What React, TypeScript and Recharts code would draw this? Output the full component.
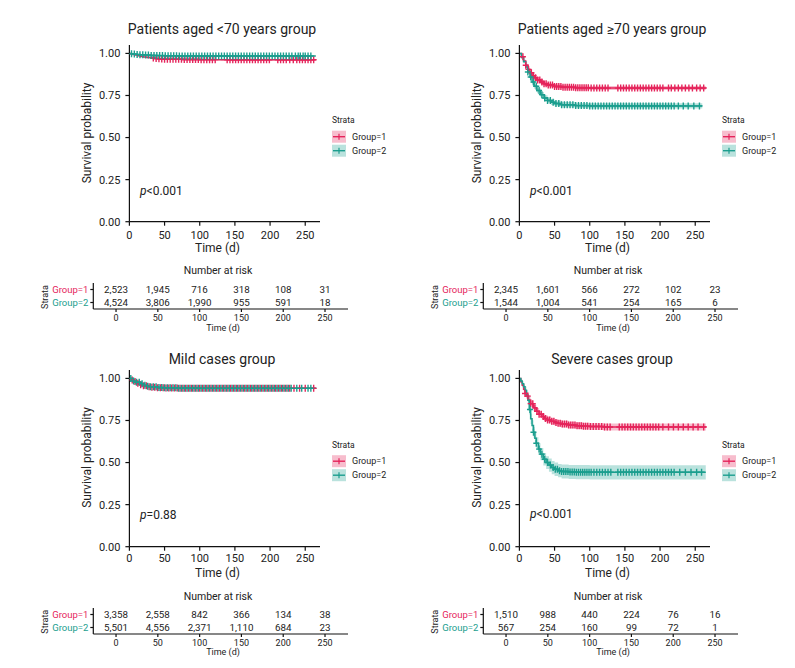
import React from "react";
import { ComposedChart, Line, Area, Scatter, XAxis, YAxis } from "recharts";

const RED = "#E5245B";
const TEAL = "#1B9E8E";
const FONT = "Roboto, sans-serif";

// ---------- Panel titles / p-values ----------
const TITLES = ["Patients aged <70 years group", "Patients aged \u226570 years group", "Mild cases group", "Severe cases group"];
const PVALS = ["<0.001", "<0.001", "=0.88", "<0.001"];
const GROUPS = ["Group=1", "Group=2"];
const X_TICKS = [0, 50, 100, 150, 200, 250];
const Y_TICKS = [0, 0.25, 0.5, 0.75, 1];

// ---------- Panel 1: aged <70 ----------
const P1_G1_T = [0, 2, 5, 8, 12, 16, 20, 25, 30, 35, 40, 45, 50, 60, 75, 100, 130, 265];
const P1_G1_S = [1, 0.998, 0.994, 0.99, 0.986, 0.982, 0.979, 0.976, 0.973, 0.97, 0.968, 0.967, 0.966, 0.965, 0.964, 0.963, 0.962, 0.962];
const P1_G1_LO = [1, 0.996, 0.991, 0.987, 0.982, 0.978, 0.975, 0.972, 0.969, 0.966, 0.964, 0.963, 0.962, 0.961, 0.96, 0.959, 0.957, 0.956];
const P1_G1_HI = [1, 1, 0.997, 0.993, 0.99, 0.986, 0.983, 0.98, 0.977, 0.974, 0.972, 0.971, 0.97, 0.969, 0.968, 0.967, 0.967, 0.968];
const P1_G1_CENS = [34, 38, 42, 46, 50, 54, 58, 62, 66, 70, 74, 78, 82, 86, 90, 94, 98, 102, 106, 110, 114, 118, 122, 139, 143, 147, 151, 155, 159, 163, 167, 171, 175, 179, 183, 187, 191, 195, 199, 211, 215, 219, 223, 228, 233, 238, 242, 246, 250, 254, 258, 262];
const P1_G2_T = [0, 3, 6, 10, 15, 20, 30, 40, 50, 70, 100, 265];
const P1_G2_S = [1, 0.998, 0.996, 0.994, 0.992, 0.99, 0.988, 0.987, 0.986, 0.985, 0.985, 0.985];
const P1_G2_LO = [1, 0.997, 0.994, 0.992, 0.99, 0.988, 0.985, 0.984, 0.983, 0.982, 0.982, 0.981];
const P1_G2_HI = [1, 0.999, 0.998, 0.996, 0.994, 0.992, 0.991, 0.99, 0.989, 0.988, 0.988, 0.989];
const P1_G2_CENS = [3, 7, 11, 15, 19, 23, 27, 31, 35, 39, 43, 47, 51, 55, 59, 63, 67, 71, 75, 79, 83, 87, 91, 95, 99, 103, 107, 111, 115, 119, 123, 127, 131, 135, 139, 143, 147, 151, 155, 159, 163, 167, 171, 175, 179, 183, 187, 191, 195, 199, 203, 207, 211, 215, 219, 223, 227, 231, 236, 240, 243, 247, 250, 254, 258];

// ---------- Panel 2: aged >=70 ----------
const P2_G1_T = [0, 3, 6, 9, 12, 15, 18, 21, 25, 30, 35, 40, 50, 60, 80, 100, 265];
const P2_G1_S = [1, 0.98, 0.955, 0.93, 0.905, 0.885, 0.868, 0.855, 0.842, 0.83, 0.82, 0.812, 0.803, 0.799, 0.796, 0.794, 0.793];
const P2_G1_LO = [1, 0.975, 0.948, 0.921, 0.895, 0.874, 0.857, 0.843, 0.83, 0.818, 0.808, 0.8, 0.791, 0.787, 0.784, 0.782, 0.779];
const P2_G1_HI = [1, 0.985, 0.962, 0.939, 0.915, 0.896, 0.879, 0.867, 0.854, 0.842, 0.832, 0.824, 0.815, 0.811, 0.808, 0.806, 0.807];
const P2_G1_CENS = [5, 9, 13, 17, 20, 23, 26, 29, 32, 35, 38, 41, 44, 47, 50, 53, 56, 59, 62, 65, 68, 71, 74, 77, 80, 83, 86, 89, 92, 95, 98, 102, 106, 110, 114, 118, 122, 126, 140, 144, 148, 152, 156, 160, 164, 168, 172, 176, 180, 184, 188, 192, 196, 200, 204, 212, 216, 221, 226, 231, 236, 241, 246, 252, 257, 262];
const P2_G2_T = [0, 3, 6, 9, 12, 15, 18, 21, 25, 30, 35, 40, 45, 50, 60, 80, 100, 260];
const P2_G2_S = [1, 0.975, 0.95, 0.92, 0.89, 0.86, 0.83, 0.805, 0.78, 0.755, 0.735, 0.72, 0.71, 0.702, 0.695, 0.69, 0.688, 0.688];
const P2_G2_LO = [1, 0.967, 0.94, 0.908, 0.877, 0.846, 0.815, 0.79, 0.764, 0.739, 0.719, 0.704, 0.694, 0.686, 0.679, 0.674, 0.672, 0.67];
const P2_G2_HI = [1, 0.983, 0.96, 0.932, 0.903, 0.874, 0.845, 0.82, 0.796, 0.771, 0.751, 0.736, 0.726, 0.718, 0.711, 0.706, 0.704, 0.706];
const P2_G2_CENS = [12, 16, 20, 24, 28, 32, 36, 40, 44, 48, 52, 56, 60, 64, 68, 72, 76, 80, 84, 88, 92, 96, 100, 104, 108, 112, 116, 120, 124, 128, 132, 136, 140, 144, 148, 152, 156, 160, 164, 168, 172, 176, 180, 184, 188, 192, 196, 200, 204, 208, 212, 216, 220, 226, 233, 240, 248, 256];

// ---------- Panel 3: mild cases ----------
const P3_G1_T = [0, 3, 6, 10, 15, 20, 25, 30, 40, 50, 70, 100, 265];
const P3_G1_S = [1, 0.99, 0.981, 0.972, 0.963, 0.956, 0.951, 0.948, 0.945, 0.943, 0.942, 0.941, 0.941];
const P3_G1_LO = [1, 0.987, 0.977, 0.968, 0.959, 0.952, 0.947, 0.944, 0.941, 0.939, 0.938, 0.937, 0.936];
const P3_G1_HI = [1, 0.993, 0.985, 0.976, 0.967, 0.96, 0.955, 0.952, 0.949, 0.947, 0.946, 0.945, 0.946];
const P3_G1_CENS = [4, 8, 12, 16, 20, 24, 28, 32, 36, 40, 44, 48, 52, 56, 60, 64, 68, 72, 76, 80, 84, 88, 92, 96, 100, 104, 108, 112, 116, 120, 124, 128, 132, 136, 140, 144, 148, 152, 156, 160, 164, 168, 172, 176, 180, 184, 188, 192, 196, 200, 204, 208, 212, 216, 220, 224, 228, 234, 242, 250, 262];
const P3_G2_T = [0, 3, 6, 10, 15, 20, 25, 30, 40, 50, 70, 100, 265];
const P3_G2_S = [1, 0.992, 0.985, 0.977, 0.968, 0.96, 0.954, 0.95, 0.946, 0.944, 0.942, 0.941, 0.94];
const P3_G2_LO = [1, 0.99, 0.982, 0.974, 0.965, 0.957, 0.951, 0.947, 0.943, 0.941, 0.939, 0.938, 0.937];
const P3_G2_HI = [1, 0.994, 0.988, 0.98, 0.971, 0.963, 0.957, 0.953, 0.949, 0.947, 0.945, 0.944, 0.943];
const P3_G2_CENS = [2, 6, 10, 14, 18, 22, 26, 30, 34, 38, 42, 46, 50, 54, 58, 62, 66, 70, 74, 78, 82, 86, 90, 94, 98, 102, 106, 110, 114, 118, 122, 126, 130, 134, 138, 142, 146, 150, 154, 158, 162, 166, 170, 174, 178, 182, 186, 190, 194, 198, 202, 206, 210, 214, 218, 222, 226, 230, 238, 245, 254, 258];

// ---------- Panel 4: severe cases ----------
const P4_G1_T = [0, 2, 4, 6, 8, 10, 13, 16, 20, 24, 28, 32, 36, 40, 45, 50, 55, 60, 70, 80, 90, 100, 120, 265];
const P4_G1_S = [1, 0.98, 0.96, 0.935, 0.91, 0.895, 0.872, 0.85, 0.825, 0.805, 0.787, 0.773, 0.762, 0.753, 0.745, 0.738, 0.733, 0.729, 0.723, 0.719, 0.716, 0.714, 0.711, 0.709];
const P4_G1_LO = [1, 0.973, 0.95, 0.923, 0.896, 0.88, 0.856, 0.833, 0.807, 0.786, 0.768, 0.753, 0.742, 0.733, 0.725, 0.718, 0.713, 0.709, 0.703, 0.699, 0.696, 0.694, 0.69, 0.687];
const P4_G1_HI = [1, 0.987, 0.97, 0.947, 0.924, 0.91, 0.888, 0.867, 0.843, 0.824, 0.806, 0.793, 0.782, 0.773, 0.765, 0.758, 0.753, 0.749, 0.743, 0.739, 0.736, 0.734, 0.732, 0.731];
const P4_G1_CENS = [8, 12, 16, 19, 22, 25, 28, 31, 34, 37, 40, 43, 46, 49, 52, 55, 58, 61, 64, 67, 70, 73, 76, 79, 82, 85, 88, 91, 94, 97, 101, 105, 109, 113, 117, 121, 125, 129, 142, 146, 150, 154, 158, 162, 166, 170, 174, 178, 182, 186, 190, 194, 198, 204, 212, 219, 226, 233, 240, 247, 254, 262];
const P4_G2_T = [0, 2, 4, 6, 8, 10, 12, 14, 16, 18, 20, 22, 24, 27, 30, 34, 38, 42, 46, 50, 55, 60, 70, 80, 100, 265];
const P4_G2_S = [1, 0.985, 0.968, 0.95, 0.93, 0.905, 0.87, 0.815, 0.76, 0.72, 0.68, 0.645, 0.615, 0.58, 0.55, 0.52, 0.5, 0.485, 0.47, 0.46, 0.452, 0.447, 0.444, 0.443, 0.442, 0.442];
const P4_G2_LO = [1, 0.975, 0.953, 0.932, 0.908, 0.88, 0.843, 0.786, 0.729, 0.688, 0.647, 0.611, 0.58, 0.545, 0.514, 0.483, 0.462, 0.446, 0.431, 0.42, 0.412, 0.406, 0.403, 0.401, 0.4, 0.398];
const P4_G2_HI = [1, 0.995, 0.983, 0.968, 0.952, 0.93, 0.897, 0.844, 0.791, 0.752, 0.713, 0.679, 0.65, 0.615, 0.586, 0.557, 0.538, 0.524, 0.509, 0.5, 0.492, 0.488, 0.485, 0.485, 0.484, 0.486];
const P4_G2_CENS = [15, 20, 24, 28, 32, 36, 40, 44, 48, 51, 54, 57, 60, 63, 66, 69, 72, 75, 78, 81, 84, 87, 90, 93, 96, 99, 102, 106, 110, 114, 118, 122, 126, 130, 140, 144, 148, 152, 156, 160, 164, 168, 172, 176, 180, 184, 188, 192, 196, 200, 204, 208, 212, 216, 220, 228, 236, 244, 252, 259];

// ---------- Number at risk ----------
const RT_TIMES = [0, 50, 100, 150, 200, 250];
const RT1_G1 = [2523, 1945, 716, 318, 108, 31];
const RT1_G2 = [4524, 3806, 1990, 955, 591, 18];
const RT2_G1 = [2345, 1601, 566, 272, 102, 23];
const RT2_G2 = [1544, 1004, 541, 254, 165, 6];
const RT3_G1 = [3358, 2558, 842, 366, 134, 38];
const RT3_G2 = [5501, 4556, 2371, 1110, 684, 23];
const RT4_G1 = [1510, 988, 440, 224, 76, 16];
const RT4_G2 = [567, 254, 160, 99, 72, 1];

type Grp = { t: number[]; s: number[]; lo: number[]; hi: number[]; cens: number[] };

const stepAt = (ts: number[], ss: number[], t: number) => {
  let v = ss[0];
  for (let i = 0; i < ts.length; i++) {
    if (ts[i] <= t) v = ss[i];
    else break;
  }
  return v;
};

const plusShape = (color: string) => (p: any) => (
  <path
    d={`M${p.cx - 3},${p.cy}h6M${p.cx},${p.cy - 3.5}v7`}
    stroke={color}
    strokeWidth={1.4}
    fill="none"
  />
);

const axisStroke = { stroke: "#111", strokeWidth: 1.2 };

function KMChart({ ox, oy, g1, g2, tickMargin }: { ox: number; oy: number; g1: Grp; g2: Grp; tickMargin: number }) {
  const mk = (g: Grp) => ({
    line: g.t.map((x, i) => ({ t: x, s: g.s[i] })),
    band: g.t.map((x, i) => ({ t: x, r: [g.lo[i], g.hi[i]] })),
    cens: g.cens.map((c) => ({ t: c, s: stepAt(g.t, g.s, c) })),
  });
  const a = mk(g1);
  const b = mk(g2);
  return (
    <div style={{ position: "absolute", left: ox + 60, top: oy + 20 }}>
      <ComposedChart width={275} height={245} margin={{ top: 25, right: 15, bottom: 13.3, left: 0 }}>
        <XAxis
          type="number"
          dataKey="t"
          domain={[0, 271]}
          ticks={X_TICKS}
          allowDataOverflow
          interval={0}
          height={30}
          tickSize={4}
          tickMargin={tickMargin}
          axisLine={axisStroke}
          tickLine={axisStroke}
          tick={{ fontSize: 11, fill: "#222", fontFamily: FONT }}
        />
        <YAxis
          type="number"
          domain={[0, 1.05]}
          ticks={Y_TICKS}
          allowDataOverflow
          interval={0}
          width={69.4}
          tickSize={4}
          tickMargin={5}
          tickFormatter={(v: number) => v.toFixed(2)}
          axisLine={axisStroke}
          tickLine={axisStroke}
          tick={{ fontSize: 11, fill: "#222", fontFamily: FONT }}
        />
        <Area data={a.band} dataKey="r" type="stepAfter" stroke="none" fill={RED} fillOpacity={0.3} isAnimationActive={false} />
        <Area data={b.band} dataKey="r" type="stepAfter" stroke="none" fill={TEAL} fillOpacity={0.3} isAnimationActive={false} />
        <Line data={a.line} dataKey="s" type="stepAfter" stroke={RED} strokeWidth={1.5} dot={false} isAnimationActive={false} />
        <Scatter data={a.cens} dataKey="s" shape={plusShape(RED)} isAnimationActive={false} />
        <Line data={b.line} dataKey="s" type="stepAfter" stroke={TEAL} strokeWidth={1.5} dot={false} isAnimationActive={false} />
        <Scatter data={b.cens} dataKey="s" shape={plusShape(TEAL)} isAnimationActive={false} />
      </ComposedChart>
    </div>
  );
}

const GroupTick = (p: any) => {
  const isG1 = p.payload.value > 1;
  return (
    <text x={p.x} y={p.y} dy="0.35em" textAnchor="end" fontSize={9.5} fontFamily={FONT} fill={isG1 ? RED : TEAL}>
      {isG1 ? GROUPS[0] : GROUPS[1]}
    </text>
  );
};

const numShape = (p: any) => (
  <text x={p.cx} y={p.cy} dy="0.35em" textAnchor="middle" fontSize={9.8} fontFamily={FONT} fill="#222">
    {Number(p.payload.n).toLocaleString("en-US")}
  </text>
);

function RiskTable({ ox, oy, n1, n2 }: { ox: number; oy: number; n1: number[]; n2: number[] }) {
  const data = [
    ...RT_TIMES.map((t, i) => ({ t, y: 1.5, n: n1[i] })),
    ...RT_TIMES.map((t, i) => ({ t, y: 0.5, n: n2[i] })),
  ];
  return (
    <div style={{ position: "absolute", left: ox + 30, top: oy + 275 }}>
      <ComposedChart width={330} height={60} margin={{ top: 8, right: 12, bottom: 0, left: 0 }}>
        <XAxis
          type="number"
          dataKey="t"
          domain={[-27.2, 277.5]}
          ticks={RT_TIMES}
          allowDataOverflow
          interval={0}
          height={26}
          tickSize={3}
          tickMargin={3}
          axisLine={axisStroke}
          tickLine={axisStroke}
          tick={{ fontSize: 9, fill: "#222", fontFamily: FONT }}
        />
        <YAxis
          type="number"
          domain={[0, 2]}
          ticks={[0.5, 1.5]}
          interval={0}
          width={63.3}
          tickSize={3}
          tickMargin={2}
          axisLine={axisStroke}
          tickLine={axisStroke}
          tick={<GroupTick />}
        />
        <Scatter data={data} dataKey="y" shape={numShape} isAnimationActive={false} />
      </ComposedChart>
    </div>
  );
}

function Overlay() {
  const panels = [
    { ox: 0, oy: 0, titleY: 29, xlabY: 248, pY: 191, nar: 270, tbl: 0 },
    { ox: 390, oy: 0, titleY: 29, xlabY: 248, pY: 191, nar: 270, tbl: 0 },
    { ox: 0, oy: 324.5, titleY: 359, xlabY: 573, pY: 515, nar: 596, tbl: 324.7 },
    { ox: 390, oy: 324.5, titleY: 359, xlabY: 573, pY: 514, nar: 596, tbl: 324.7 },
  ];
  const txt = { fontFamily: FONT, fill: "#222" } as const;
  return (
    <svg width={795} height={668} style={{ position: "absolute", left: 0, top: 0, pointerEvents: "none" }}>
      {panels.map((p, i) => (
        <g key={i}>
          <text x={p.ox + 222} y={p.titleY} textAnchor="middle" dominantBaseline="central" fontSize={14} {...txt}>
            {TITLES[i]}
          </text>
          <text
            x={p.ox + 87}
            y={p.oy + 133}
            textAnchor="middle"
            dominantBaseline="central"
            fontSize={12}
            transform={`rotate(-90 ${p.ox + 87} ${p.oy + 133})`}
            {...txt}
          >
            Survival probability
          </text>
          <text x={p.ox + 217.5} y={p.xlabY} textAnchor="middle" dominantBaseline="central" fontSize={12} {...txt}>
            Time (d)
          </text>
          <text x={p.ox + 140} y={p.pY} dominantBaseline="central" fontSize={12} {...txt}>
            <tspan fontStyle="italic">p</tspan>
            {PVALS[i]}
          </text>
          {/* legend */}
          <text x={p.ox + 332} y={p.oy + 120} dominantBaseline="central" fontSize={8.5} {...txt}>
            Strata
          </text>
          {[RED, TEAL].map((c, k) => {
            const cy = p.oy + 136.7 + k * 14;
            const x0 = p.ox + 332;
            return (
              <g key={k}>
                <rect x={x0} y={cy - 6} width={14} height={12} fill={c} fillOpacity={0.3} />
                <line x1={x0 + 1} x2={x0 + 13} y1={cy} y2={cy} stroke={c} strokeWidth={1.4} />
                <line x1={x0 + 7} x2={x0 + 7} y1={cy - 3} y2={cy + 3} stroke={c} strokeWidth={1.2} />
                <text x={x0 + 20} y={cy} dominantBaseline="central" fontSize={9} {...txt}>
                  {GROUPS[k]}
                </text>
              </g>
            );
          })}
          {/* risk table labels */}
          <text x={p.ox + 218} y={p.nar} textAnchor="middle" dominantBaseline="central" fontSize={10.5} {...txt}>
            Number at risk
          </text>
          <text x={p.ox + 223} y={p.tbl + 327.7} textAnchor="middle" dominantBaseline="central" fontSize={9} {...txt}>
            Time (d)
          </text>
          <text
            x={p.ox + 45}
            y={p.tbl + 297}
            textAnchor="middle"
            dominantBaseline="central"
            fontSize={9}
            transform={`rotate(-90 ${p.ox + 45} ${p.tbl + 297})`}
            {...txt}
          >
            Strata
          </text>
        </g>
      ))}
    </svg>
  );
}

const G = (t: number[], s: number[], lo: number[], hi: number[], cens: number[]): Grp => ({ t, s, lo, hi, cens });

export default function App() {
  return (
    <div style={{ position: "absolute", left: 0, top: 0, width: 795, height: 668, background: "#fff", overflow: "hidden" }}>
      <KMChart ox={0} oy={0} tickMargin={5.5} g1={G(P1_G1_T, P1_G1_S, P1_G1_LO, P1_G1_HI, P1_G1_CENS)} g2={G(P1_G2_T, P1_G2_S, P1_G2_LO, P1_G2_HI, P1_G2_CENS)} />
      <KMChart ox={390} oy={0} tickMargin={5.5} g1={G(P2_G1_T, P2_G1_S, P2_G1_LO, P2_G1_HI, P2_G1_CENS)} g2={G(P2_G2_T, P2_G2_S, P2_G2_LO, P2_G2_HI, P2_G2_CENS)} />
      <KMChart ox={0} oy={324.5} tickMargin={3.5} g1={G(P3_G1_T, P3_G1_S, P3_G1_LO, P3_G1_HI, P3_G1_CENS)} g2={G(P3_G2_T, P3_G2_S, P3_G2_LO, P3_G2_HI, P3_G2_CENS)} />
      <KMChart ox={390} oy={324.5} tickMargin={3.5} g1={G(P4_G1_T, P4_G1_S, P4_G1_LO, P4_G1_HI, P4_G1_CENS)} g2={G(P4_G2_T, P4_G2_S, P4_G2_LO, P4_G2_HI, P4_G2_CENS)} />
      <RiskTable ox={0} oy={0} n1={RT1_G1} n2={RT1_G2} />
      <RiskTable ox={390} oy={0} n1={RT2_G1} n2={RT2_G2} />
      <RiskTable ox={0} oy={324.7} n1={RT3_G1} n2={RT3_G2} />
      <RiskTable ox={390} oy={324.7} n1={RT4_G1} n2={RT4_G2} />
      <Overlay />
    </div>
  );
}
